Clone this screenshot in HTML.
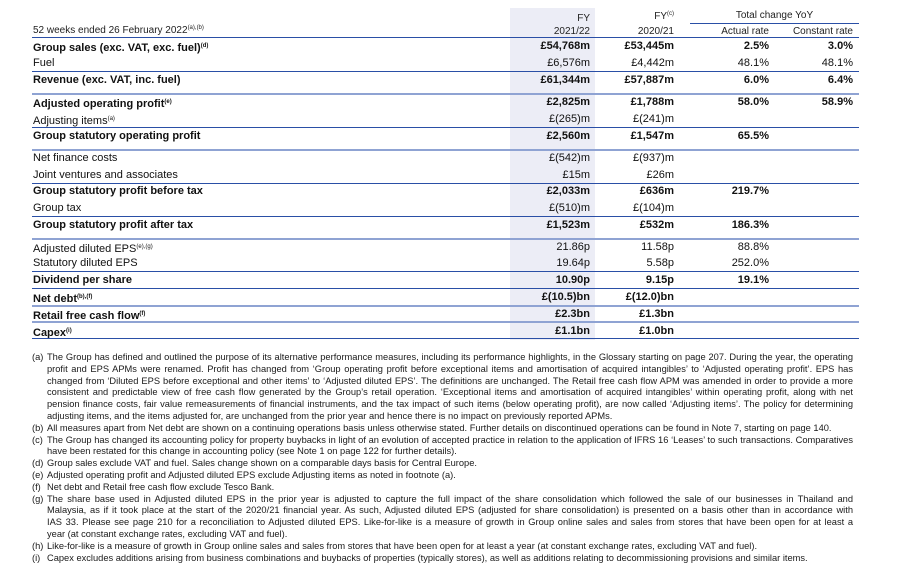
<!DOCTYPE html>
<html><head><meta charset="utf-8"><style>
body{margin:0;width:923px;height:576px;background:#fff;position:relative;overflow:hidden;font-family:"Liberation Sans",sans-serif;color:#111}
.a{position:absolute;white-space:nowrap}
.sh{position:absolute;left:510px;top:8px;width:85px;height:332px;background:#ecedf6}
.ln{position:absolute;left:32px;width:827px;height:1px;background:#2a4fa6}
.lt{position:absolute;left:32px;width:827px;height:2px;background:#8fa3d3}
.r{position:absolute;left:32px;width:827px;height:17px;font-size:11px;line-height:17px}
.r span{position:absolute;white-space:nowrap}
.r .l{left:1px}
.r .c1{right:269px}.r .c2{right:185px}.r .c3{right:90px}.r .c4{right:6px}
.b{font-weight:bold}
sup{font-size:6px;vertical-align:4px}
.h{font-size:10px;color:#222}
.fn{position:absolute;font-size:9.3px;line-height:11.8px;white-space:nowrap;color:#1a1a1a}
.fn .k{position:absolute;left:0}
.fn .t{position:absolute;left:15px;width:806px;text-align:justify;text-align-last:justify}
.fn .t.e{text-align-last:left}
</style></head><body>
<div class="sh"></div>
<div class="a h" style="left:33px;top:25px">52 weeks ended 26 February 2022<sup>(a),(b)</sup></div>
<div class="a h" style="right:333px;top:13px">FY</div>
<div class="a h" style="right:333px;top:26px">2021/22</div>
<div class="a h" style="right:249px;top:11px">FY<sup>(c)</sup></div>
<div class="a h" style="right:249px;top:26px">2020/21</div>
<div class="a h" style="left:690px;width:169px;text-align:center;top:10px">Total change YoY</div>
<div style="position:absolute;left:690px;top:23px;width:169px;height:1px;background:#2a4fa6"></div>
<div class="a h" style="right:154px;top:26px">Actual rate</div>
<div class="a h" style="right:70px;top:26px">Constant rate</div>
<div class="ln" style="top:37px"></div>

<div class="r b" style="top:38px"><span class="l">Group sales (exc. VAT, exc. fuel)<sup>(d)</sup></span><span class="c1">£54,768m</span><span class="c2">£53,445m</span><span class="c3">2.5%</span><span class="c4">3.0%</span></div>
<div class="r" style="top:55px"><span class="l">Fuel</span><span class="c1">£6,576m</span><span class="c2">£4,442m</span><span class="c3">48.1%</span><span class="c4">48.1%</span></div>
<div class="ln" style="top:71px"></div>
<div class="r b" style="top:72px"><span class="l">Revenue (exc. VAT, inc. fuel)</span><span class="c1">£61,344m</span><span class="c2">£57,887m</span><span class="c3">6.0%</span><span class="c4">6.4%</span></div>
<div class="lt" style="top:93px"></div>
<div class="r b" style="top:94px"><span class="l">Adjusted operating profit<sup>(e)</sup></span><span class="c1">£2,825m</span><span class="c2">£1,788m</span><span class="c3">58.0%</span><span class="c4">58.9%</span></div>
<div class="r" style="top:111px"><span class="l">Adjusting items<sup>(a)</sup></span><span class="c1">£(265)m</span><span class="c2">£(241)m</span></div>
<div class="ln" style="top:127px"></div>
<div class="r b" style="top:128px"><span class="l">Group statutory operating profit</span><span class="c1">£2,560m</span><span class="c2">£1,547m</span><span class="c3">65.5%</span></div>
<div class="lt" style="top:149px"></div>
<div class="r" style="top:150px"><span class="l">Net finance costs</span><span class="c1">£(542)m</span><span class="c2">£(937)m</span></div>
<div class="r" style="top:167px"><span class="l">Joint ventures and associates</span><span class="c1">£15m</span><span class="c2">£26m</span></div>
<div class="ln" style="top:183px"></div>
<div class="r b" style="top:183px"><span class="l">Group statutory profit before tax</span><span class="c1">£2,033m</span><span class="c2">£636m</span><span class="c3">219.7%</span></div>
<div class="r" style="top:200px"><span class="l">Group tax</span><span class="c1">£(510)m</span><span class="c2">£(104)m</span></div>
<div class="ln" style="top:216px"></div>
<div class="r b" style="top:217px"><span class="l">Group statutory profit after tax</span><span class="c1">£1,523m</span><span class="c2">£532m</span><span class="c3">186.3%</span></div>
<div class="lt" style="top:238px"></div>
<div class="r" style="top:239px"><span class="l">Adjusted diluted EPS<sup>(e),(g)</sup></span><span class="c1">21.86p</span><span class="c2">11.58p</span><span class="c3">88.8%</span></div>
<div class="r" style="top:255px"><span class="l">Statutory diluted EPS</span><span class="c1">19.64p</span><span class="c2">5.58p</span><span class="c3">252.0%</span></div>
<div class="ln" style="top:271px"></div>
<div class="r b" style="top:272px"><span class="l">Dividend per share</span><span class="c1">10.90p</span><span class="c2">9.15p</span><span class="c3">19.1%</span></div>
<div class="ln" style="top:288px"></div>
<div class="r b" style="top:289px"><span class="l">Net debt<sup>(b),(f)</sup></span><span class="c1">£(10.5)bn</span><span class="c2">£(12.0)bn</span></div>
<div class="lt" style="top:305px"></div>
<div class="r b" style="top:306px"><span class="l">Retail free cash flow<sup>(f)</sup></span><span class="c1">£2.3bn</span><span class="c2">£1.3bn</span></div>
<div class="lt" style="top:321px"></div>
<div class="r b" style="top:323px"><span class="l">Capex<sup>(i)</sup></span><span class="c1">£1.1bn</span><span class="c2">£1.0bn</span></div>
<div class="ln" style="top:338px"></div>

<div class="fn" style="left:32px;top:352px;width:830px;height:220px">
<div class="k" style="top:0">(a)</div>
<div class="t" style="top:0">The Group has defined and outlined the purpose of its alternative performance measures, including its performance highlights, in the Glossary starting on page 207. During the year, the operating</div>
<div class="t" style="top:11.8px">profit and EPS APMs were renamed. Profit has changed from ‘Group operating profit before exceptional items and amortisation of acquired intangibles’ to ‘Adjusted operating profit’. EPS has</div>
<div class="t" style="top:23.6px">changed from ‘Diluted EPS before exceptional and other items’ to ‘Adjusted diluted EPS’. The definitions are unchanged. The Retail free cash flow APM was amended in order to provide a more</div>
<div class="t" style="top:35.4px">consistent and predictable view of free cash flow generated by the Group’s retail operation. ‘Exceptional items and amortisation of acquired intangibles’ within operating profit, along with net</div>
<div class="t" style="top:47.2px">pension finance costs, fair value remeasurements of financial instruments, and the tax impact of such items (below operating profit), are now called ‘Adjusting items’. The policy for determining</div>
<div class="t e" style="top:59px">adjusting items, and the items adjusted for, are unchanged from the prior year and hence there is no impact on previously reported APMs.</div>
<div class="k" style="top:70.8px">(b)</div>
<div class="t e" style="top:70.8px">All measures apart from Net debt are shown on a continuing operations basis unless otherwise stated. Further details on discontinued operations can be found in Note 7, starting on page 140.</div>
<div class="k" style="top:82.6px">(c)</div>
<div class="t" style="top:82.6px">The Group has changed its accounting policy for property buybacks in light of an evolution of accepted practice in relation to the application of IFRS 16 ‘Leases’ to such transactions. Comparatives</div>
<div class="t e" style="top:94.4px">have been restated for this change in accounting policy (see Note 1 on page 122 for further details).</div>
<div class="k" style="top:106.2px">(d)</div>
<div class="t e" style="top:106.2px">Group sales exclude VAT and fuel. Sales change shown on a comparable days basis for Central Europe.</div>
<div class="k" style="top:118px">(e)</div>
<div class="t e" style="top:118px">Adjusted operating profit and Adjusted diluted EPS exclude Adjusting items as noted in footnote (a).</div>
<div class="k" style="top:129.8px">(f)</div>
<div class="t e" style="top:129.8px">Net debt and Retail free cash flow exclude Tesco Bank.</div>
<div class="k" style="top:141.6px">(g)</div>
<div class="t" style="top:141.6px">The share base used in Adjusted diluted EPS in the prior year is adjusted to capture the full impact of the share consolidation which followed the sale of our businesses in Thailand and</div>
<div class="t" style="top:153.4px">Malaysia, as if it took place at the start of the 2020/21 financial year. As such, Adjusted diluted EPS (adjusted for share consolidation) is presented on a basis other than in accordance with</div>
<div class="t" style="top:165.2px">IAS 33. Please see page 210 for a reconciliation to Adjusted diluted EPS. Like-for-like is a measure of growth in Group online sales and sales from stores that have been open for at least a</div>
<div class="t e" style="top:177px">year (at constant exchange rates, excluding VAT and fuel).</div>
<div class="k" style="top:188.8px">(h)</div>
<div class="t e" style="top:188.8px">Like-for-like is a measure of growth in Group online sales and sales from stores that have been open for at least a year (at constant exchange rates, excluding VAT and fuel).</div>
<div class="k" style="top:200.6px">(i)</div>
<div class="t e" style="top:200.6px">Capex excludes additions arising from business combinations and buybacks of properties (typically stores), as well as additions relating to decommissioning provisions and similar items.</div>
</div>
</body></html>
